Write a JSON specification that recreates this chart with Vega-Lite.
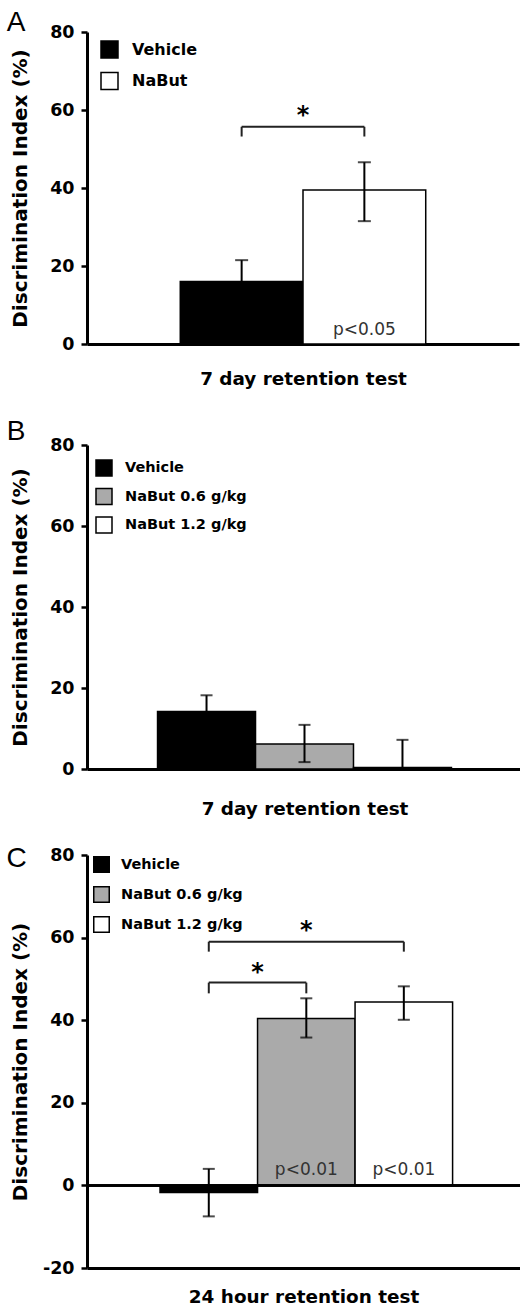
{
  "$schema": "https://vega.github.io/schema/vega-lite/v6.json",
  "padding": {"left": 6, "top": 9, "right": 0, "bottom": 0},
  "spacing": 27,
  "config": {
    "font": "DejaVu Sans",
    "view": {"stroke": null},
    "axis": {"domainColor": "black", "domainWidth": 3, "tickColor": "black", "tickWidth": 2.5, "tickSize": 6,
      "labelFont": "DejaVu Sans", "labelFontWeight": "bold", "labelFontSize": 17.5, "labelColor": "black", "labelPadding": 7,
      "titleFont": "DejaVu Sans", "titleFontWeight": "bold", "titleColor": "black", "grid": false},
    "axisY": {"titleFontSize": 20, "titlePadding": 19, "labelExpr": "'' + datum.value"},
    "axisX": {"titleFontSize": 18.4, "labels": false, "ticks": false},
    "legend": {"orient": "none", "title": null, "symbolType": "square", "symbolStrokeColor": "black", "symbolStrokeWidth": 1.5,
      "labelFont": "DejaVu Sans", "labelFontWeight": "bold", "labelColor": "black", "padding": 0, "symbolOpacity": 1},
    "title": {"anchor": "start", "frame": "bounds", "font": "Liberation Sans", "fontSize": 28, "fontWeight": "normal", "color": "black", "baseline": "alphabetic"}
  },
  "resolve": {"scale": {"x": "independent", "y": "independent", "fill": "independent"}, "legend": {"fill": "independent"}},
  "datasets": {
    "barsA": [
      {"group": "Vehicle", "value": 16.0, "lo": 10.5, "hi": 21.5},
      {"group": "NaBut", "value": 39.5, "lo": 31.5, "hi": 46.6}
    ],
    "bracketA": [{"from": "Vehicle", "to": "NaBut", "y": 55.7, "yEnd": 53.2}],
    "starA": [{"at": "Vehicle", "y": 56.7, "label": "*"}],
    "pA": [{"group": "NaBut", "y": 3.6, "label": "p<0.05"}],
    "barsB": [
      {"group": "Vehicle", "value": 14.2, "lo": 10.2, "hi": 18.2},
      {"group": "NaBut 0.6 g/kg", "value": 6.2, "lo": 1.7, "hi": 10.9},
      {"group": "NaBut 1.2 g/kg", "value": 0.4, "lo": 0.4, "hi": 7.2}
    ],
    "barsC": [
      {"group": "Vehicle", "value": -1.7, "lo": -7.5, "hi": 4.0},
      {"group": "NaBut 0.6 g/kg", "value": 40.4, "lo": 35.8, "hi": 45.3},
      {"group": "NaBut 1.2 g/kg", "value": 44.4, "lo": 40.1, "hi": 48.2}
    ],
    "bracketC": [
      {"from": "Vehicle", "to": "NaBut 1.2 g/kg", "y": 59.0, "yEnd": 56.6},
      {"from": "Vehicle", "to": "NaBut 0.6 g/kg", "y": 49.1, "yEnd": 46.5}
    ],
    "bracketEndsC": [
      {"at": "Vehicle", "y": 59.0, "yEnd": 56.6},
      {"at": "NaBut 1.2 g/kg", "y": 59.0, "yEnd": 56.6},
      {"at": "Vehicle", "y": 49.1, "yEnd": 46.5},
      {"at": "NaBut 0.6 g/kg", "y": 49.1, "yEnd": 46.5}
    ],
    "starC": [
      {"pair": "wide", "at": "NaBut 0.6 g/kg", "y": 60.0, "label": "*"},
      {"pair": "narrow", "at": "Vehicle", "y": 49.8, "label": "*"}
    ],
    "pC": [
      {"group": "NaBut 0.6 g/kg", "y": 3.8, "label": "p<0.01"},
      {"group": "NaBut 1.2 g/kg", "y": 3.8, "label": "p<0.01"}
    ]
  },
  "vconcat": [
    {
      "width": 432, "height": 312,
      "title": {"text": "A", "offset": -14, "dx": -4},
      "layer": [
        {
          "data": {"name": "barsA"},
          "mark": {"type": "bar", "stroke": "black", "strokeWidth": 1.5},
          "encoding": {
            "x": {"field": "group", "type": "nominal", "scale": {"domain": ["Vehicle", "NaBut"], "paddingInner": 0, "paddingOuter": 0.76},
              "axis": {"title": "7 day retention test", "titlePadding": 25}},
            "y": {"field": "value", "type": "quantitative", "scale": {"domain": [0, 80], "nice": false},
              "axis": {"values": [0, 20, 40, 60, 80], "title": "Discrimination Index (%)"}},
            "fill": {"field": "group", "type": "nominal", "scale": {"domain": ["Vehicle", "NaBut"], "range": ["black", "white"]},
              "legend": {"legendX": 13, "legendY": 8, "symbolSize": 289, "labelFontSize": 16, "rowPadding": 8.5, "labelOffset": 13}}
          }
        },
        {
          "data": {"name": "barsA"},
          "mark": {"type": "rule", "color": "black", "strokeWidth": 2},
          "encoding": {"x": {"field": "group", "type": "nominal"}, "y": {"field": "lo", "type": "quantitative"}, "y2": {"field": "hi"}}
        },
        {
          "data": {"name": "barsA"},
          "mark": {"type": "tick", "color": "black", "thickness": 2, "size": 13},
          "encoding": {"x": {"field": "group", "type": "nominal"}, "y": {"field": "hi", "type": "quantitative"}}
        },
        {
          "data": {"name": "barsA"},
          "mark": {"type": "tick", "color": "black", "thickness": 2, "size": 13},
          "encoding": {"x": {"field": "group", "type": "nominal"}, "y": {"field": "lo", "type": "quantitative"}}
        },
        {
          "data": {"name": "bracketA"},
          "mark": {"type": "rule", "color": "#222", "strokeWidth": 2},
          "encoding": {"x": {"field": "from", "type": "nominal"}, "x2": {"field": "to"}, "y": {"field": "y", "type": "quantitative"}}
        },
        {
          "data": {"name": "bracketA"},
          "mark": {"type": "rule", "color": "#222", "strokeWidth": 2},
          "encoding": {"x": {"field": "from", "type": "nominal"}, "y": {"field": "y", "type": "quantitative"}, "y2": {"field": "yEnd"}}
        },
        {
          "data": {"name": "bracketA"},
          "mark": {"type": "rule", "color": "#222", "strokeWidth": 2},
          "encoding": {"x": {"field": "to", "type": "nominal"}, "y": {"field": "y", "type": "quantitative"}, "y2": {"field": "yEnd"}}
        },
        {
          "data": {"name": "starA"},
          "mark": {"type": "text", "font": "DejaVu Sans", "fontWeight": "bold", "fontSize": 24, "baseline": "alphabetic", "color": "black"},
          "encoding": {"x": {"field": "at", "type": "nominal", "bandPosition": 1}, "y": {"field": "y", "type": "quantitative"}, "text": {"field": "label"}}
        },
        {
          "data": {"name": "pA"},
          "mark": {"type": "text", "font": "DejaVu Sans", "fontSize": 17, "baseline": "middle", "color": "#333"},
          "encoding": {"x": {"field": "group", "type": "nominal"}, "y": {"field": "y", "type": "quantitative"}, "text": {"field": "label"}}
        }
      ]
    },
    {
      "width": 435, "height": 324,
      "title": {"text": ["", "B"], "lineHeight": 3, "offset": -10, "dx": -4},
      "layer": [
        {
          "data": {"name": "barsB"},
          "mark": {"type": "bar", "stroke": "black", "strokeWidth": 1.5},
          "encoding": {
            "x": {"field": "group", "type": "nominal", "scale": {"domain": ["Vehicle", "NaBut 0.6 g/kg", "NaBut 1.2 g/kg"], "paddingInner": 0, "paddingOuter": 0.72},
              "axis": {"title": "7 day retention test", "titlePadding": 30}},
            "y": {"field": "value", "type": "quantitative", "scale": {"domain": [0, 80], "nice": false},
              "axis": {"values": [0, 20, 40, 60, 80], "title": "Discrimination Index (%)"}},
            "fill": {"field": "group", "type": "nominal", "scale": {"domain": ["Vehicle", "NaBut 0.6 g/kg", "NaBut 1.2 g/kg"], "range": ["black", "#aaaaaa", "white"]},
              "legend": {"legendX": 8, "legendY": 14, "symbolSize": 256, "labelFontSize": 14.5, "rowPadding": 6.5, "labelOffset": 12}}
          }
        },
        {
          "data": {"name": "barsB"},
          "mark": {"type": "rule", "color": "black", "strokeWidth": 2},
          "encoding": {"x": {"field": "group", "type": "nominal"}, "y": {"field": "lo", "type": "quantitative"}, "y2": {"field": "hi"}}
        },
        {
          "data": {"name": "barsB"},
          "mark": {"type": "tick", "color": "black", "thickness": 2, "size": 12},
          "encoding": {"x": {"field": "group", "type": "nominal"}, "y": {"field": "hi", "type": "quantitative"}}
        },
        {
          "data": {"name": "barsB"},
          "transform": [{"filter": "datum.lo < datum.value"}],
          "mark": {"type": "tick", "color": "black", "thickness": 2, "size": 12},
          "encoding": {"x": {"field": "group", "type": "nominal"}, "y": {"field": "lo", "type": "quantitative"}}
        }
      ]
    },
    {
      "width": 433, "height": 413,
      "title": {"text": "C", "offset": -27, "dx": -4},
      "layer": [
        {
          "data": {"name": "barsC"},
          "mark": {"type": "bar", "stroke": "black", "strokeWidth": 1.5},
          "encoding": {
            "x": {"field": "group", "type": "nominal", "scale": {"domain": ["Vehicle", "NaBut 0.6 g/kg", "NaBut 1.2 g/kg"], "paddingInner": 0, "paddingOuter": 0.72, "align": 0.52},
              "axis": {"title": "24 hour retention test", "titlePadding": 19}},
            "y": {"field": "value", "type": "quantitative", "scale": {"domain": [-20, 80], "nice": false},
              "axis": {"values": [-20, 0, 20, 40, 60, 80], "title": "Discrimination Index (%)", "titlePadding": 12}},
            "fill": {"field": "group", "type": "nominal", "scale": {"domain": ["Vehicle", "NaBut 0.6 g/kg", "NaBut 1.2 g/kg"], "range": ["black", "#aaaaaa", "white"]},
              "legend": {"legendX": 6, "legendY": 1, "symbolSize": 240, "labelFontSize": 14.5, "rowPadding": 7, "labelOffset": 11}}
          }
        },
        {
          "data": {"name": "barsC"},
          "mark": {"type": "rule", "color": "black", "strokeWidth": 2.5},
          "encoding": {"y": {"datum": 0, "type": "quantitative"}}
        },
        {
          "data": {"name": "barsC"},
          "mark": {"type": "rule", "color": "black", "strokeWidth": 2},
          "encoding": {"x": {"field": "group", "type": "nominal"}, "y": {"field": "lo", "type": "quantitative"}, "y2": {"field": "hi"}}
        },
        {
          "data": {"name": "barsC"},
          "mark": {"type": "tick", "color": "black", "thickness": 2, "size": 12},
          "encoding": {"x": {"field": "group", "type": "nominal"}, "y": {"field": "hi", "type": "quantitative"}}
        },
        {
          "data": {"name": "barsC"},
          "mark": {"type": "tick", "color": "black", "thickness": 2, "size": 12},
          "encoding": {"x": {"field": "group", "type": "nominal"}, "y": {"field": "lo", "type": "quantitative"}}
        },
        {
          "data": {"name": "bracketC"},
          "mark": {"type": "rule", "color": "#222", "strokeWidth": 2},
          "encoding": {"x": {"field": "from", "type": "nominal"}, "x2": {"field": "to"}, "y": {"field": "y", "type": "quantitative"}}
        },
        {
          "data": {"name": "bracketEndsC"},
          "mark": {"type": "rule", "color": "#222", "strokeWidth": 2},
          "encoding": {"x": {"field": "at", "type": "nominal"}, "y": {"field": "y", "type": "quantitative"}, "y2": {"field": "yEnd"}}
        },
        {
          "data": {"name": "starC"},
          "transform": [{"filter": "datum.pair == 'wide'"}],
          "mark": {"type": "text", "font": "DejaVu Sans", "fontWeight": "bold", "fontSize": 24, "baseline": "alphabetic", "color": "black"},
          "encoding": {"x": {"field": "at", "type": "nominal", "bandPosition": 0.5}, "y": {"field": "y", "type": "quantitative"}, "text": {"field": "label"}}
        },
        {
          "data": {"name": "starC"},
          "transform": [{"filter": "datum.pair == 'narrow'"}],
          "mark": {"type": "text", "font": "DejaVu Sans", "fontWeight": "bold", "fontSize": 24, "baseline": "alphabetic", "color": "black"},
          "encoding": {"x": {"field": "at", "type": "nominal", "bandPosition": 1}, "y": {"field": "y", "type": "quantitative"}, "text": {"field": "label"}}
        },
        {
          "data": {"name": "pC"},
          "mark": {"type": "text", "font": "DejaVu Sans", "fontSize": 17, "baseline": "middle", "color": "#333"},
          "encoding": {"x": {"field": "group", "type": "nominal"}, "y": {"field": "y", "type": "quantitative"}, "text": {"field": "label"}}
        }
      ]
    }
  ]
}
